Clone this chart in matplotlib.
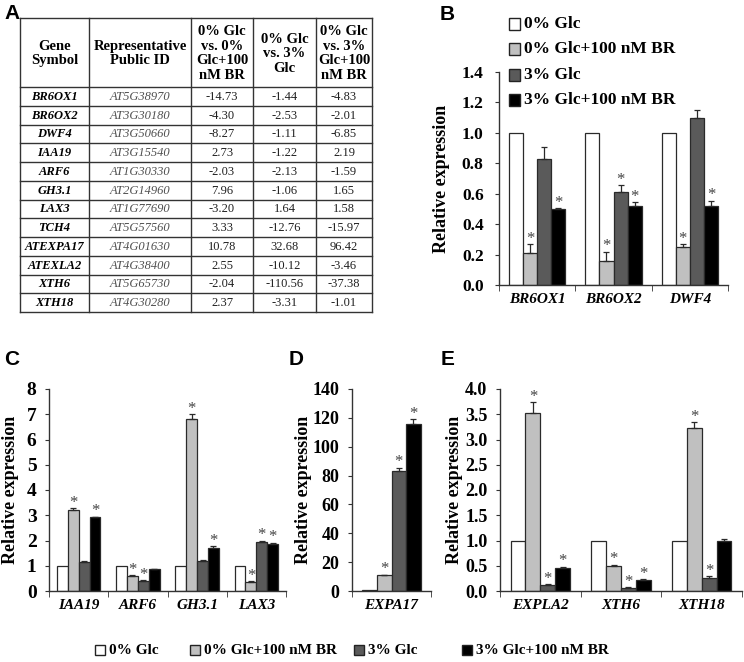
import matplotlib
matplotlib.use('Agg')
import matplotlib.pyplot as plt
import numpy as np
from matplotlib.patches import Rectangle

plt.rcParams['font.family'] = ['Liberation Serif', 'DejaVu Serif']
plt.rcParams['font.weight'] = 'bold'
plt.rcParams['axes.linewidth'] = 1.0

# ---------------- data ----------------
series = ['0% Glc', '0% Glc+100 nM BR', '3% Glc', '3% Glc+100 nM BR']
colors = ['white', '#c0c0c0', '#5a5a5a', 'black']

header = ['Gene\nSymbol', 'Representative\nPublic ID', '0% Glc\nvs. 0%\nGlc+100\nnM BR',
          '0% Glc\nvs. 3%\nGlc', '0% Glc\nvs. 3%\nGlc+100\nnM BR']
table_genes = ['BR6OX1', 'BR6OX2', 'DWF4', 'IAA19', 'ARF6', 'GH3.1', 'LAX3', 'TCH4',
               'ATEXPA17', 'ATEXLA2', 'XTH6', 'XTH18']
table_ids = ['AT5G38970', 'AT3G30180', 'AT3G50660', 'AT3G15540', 'AT1G30330', 'AT2G14960',
             'AT1G77690', 'AT5G57560', 'AT4G01630', 'AT4G38400', 'AT5G65730', 'AT4G30280']
fc_br = ['-14.73', '-4.30', '-8.27', '2.73', '-2.03', '7.96', '-3.20', '3.33', '10.78', '2.55', '-2.04', '2.37']
fc_glc = ['-1.44', '-2.53', '-1.11', '-1.22', '-2.13', '-1.06', '1.64', '-12.76', '32.68', '-10.12', '-110.56', '-3.31']
fc_both = ['-4.83', '-2.01', '-6.85', '2.19', '-1.59', '1.65', '1.58', '-15.97', '96.42', '-3.46', '-37.38', '-1.01']

b_genes = ['BR6OX1', 'BR6OX2', 'DWF4']
b_means = [[1.0, 1.0, 1.0], [0.21, 0.16, 0.25], [0.83, 0.61, 1.10], [0.50, 0.52, 0.52]]
b_errs = [[0, 0, 0], [0.06, 0.06, 0.02], [0.08, 0.045, 0.05], [0.005, 0.025, 0.035]]
b_sig = [[0, 0, 0], [1, 1, 1], [0, 1, 0], [1, 1, 1]]
b_ticks = [0.0, 0.2, 0.4, 0.6, 0.8, 1.0, 1.2, 1.4]

c_genes = ['IAA19', 'ARF6', 'GH3.1', 'LAX3']
c_means = [[1, 1, 1, 1], [3.2, 0.6, 6.8, 0.35], [1.13, 0.4, 1.2, 1.95], [2.92, 0.87, 1.72, 1.88]]
c_errs = [[0, 0, 0, 0], [0.08, 0.03, 0.2, 0.03], [0.04, 0.02, 0.03, 0.05], [0.03, 0.01, 0.05, 0.04]]
c_sig = [[0, 0, 0, 0], [1, 1, 1, 1], [0, 1, 0, 1], [1, 0, 1, 1]]
c_ticks = [0, 1, 2, 3, 4, 5, 6, 7, 8]

d_genes = ['EXPA17']
d_means = [[1.0], [10.8], [83.0], [115.5]]
d_errs = [[0], [0.5], [2.5], [3.5]]
d_sig = [[0], [1], [1], [1]]
d_ticks = [0, 20, 40, 60, 80, 100, 120, 140]

e_genes = ['EXPLA2', 'XTH6', 'XTH18']
e_means = [[1.0, 1.0, 1.0], [3.52, 0.5, 3.23], [0.11, 0.06, 0.25], [0.46, 0.22, 1.0]]
e_errs = [[0, 0, 0], [0.22, 0.02, 0.11], [0.02, 0.01, 0.04], [0.02, 0.015, 0.02]]
e_sig = [[0, 0, 0], [1, 1, 1], [1, 1, 1], [1, 1, 0]]
e_ticks = [0.0, 0.5, 1.0, 1.5, 2.0, 2.5, 3.0, 3.5, 4.0]

# ---------------- figure ----------------
W, H = 744, 662
fig = plt.figure(figsize=(W / 100, H / 100), dpi=100)


def px_axes(l, t, r, b):
    return fig.add_axes([l / W, 1 - b / H, (r - l) / W, (b - t) / H])


def fx(x):
    return x / W


def fy(y):
    return 1 - y / H


# ---------------- panel letters ----------------
for letter, (x, y) in zip('ABCDE', [(4, 4), (440, 5), (4, 350), (289, 350), (441, 350)]):
    fig.text(fx(x), fy(y), letter, family='Liberation Sans', fontsize=15, fontweight='bold',
             ha='left', va='top')

# ---------------- table (A) ----------------
tax = px_axes(20, 18, 372, 312)
tax.set_xlim(20, 372)
tax.set_ylim(312, 18)
tax.axis('off')
col_edges = [20, 89, 191, 253, 316, 372]
head_bot = 87
n = len(table_genes)
row_h = (312 - head_bot) / n
lc = '#333333'
for xe in col_edges:
    tax.plot([xe, xe], [18, 312], color=lc, lw=1.0, clip_on=False)
tax.plot([20, 372], [18, 18], color=lc, lw=1.0, clip_on=False)
tax.plot([20, 372], [head_bot, head_bot], color=lc, lw=1.0, clip_on=False)
for i in range(n):
    yb = head_bot + (i + 1) * row_h
    tax.plot([20, 372], [yb, yb], color=lc, lw=1.0, clip_on=False)
centers = [(col_edges[j] + col_edges[j + 1]) / 2 for j in range(5)]
for j, h in enumerate(header):
    tax.text(centers[j], (18 + head_bot) / 2 + 1, h, ha='center', va='center', fontsize=10.5,
             fontweight='bold', linespacing=1.15)
cols = [table_genes, table_ids, fc_br, fc_glc, fc_both]
for i in range(n):
    yc = head_bot + (i + 0.5) * row_h
    for j, col in enumerate(cols):
        if j == 0:
            kw = dict(fontweight='bold', fontstyle='italic', color='black')
        elif j == 1:
            kw = dict(fontweight='normal', fontstyle='italic', color='#505050')
        else:
            kw = dict(fontweight='normal', color='#202020')
        tax.text(centers[j], yc + 0.5, col[i], ha='center', va='center', fontsize=9, **kw)


# ---------------- bar panels ----------------
def bar_panel(ax, genes, means, errs, sigs, ticks, fmt, tick_fs, pad, width=0.184):
    x = np.arange(len(genes))
    for i in range(4):
        xs = x + (i - 1.5) * width
        ax.bar(xs, means[i], width, color=colors[i], edgecolor='#2a2a2a', linewidth=0.9, zorder=2)
        e = np.array(errs[i], dtype=float)
        m = np.array(means[i], dtype=float)
        mask = e > 0
        if mask.any():
            ax.errorbar(xs[mask], m[mask], yerr=[np.zeros(mask.sum()), e[mask]], fmt='none',
                        ecolor='#2a2a2a', elinewidth=0.9, capsize=2.5, capthick=0.9, zorder=3)
        for xx, mm, ee, s in zip(xs, m, e, sigs[i]):
            if s:
                ax.annotate('*', (xx, mm + ee), xytext=(0, 1), textcoords='offset points',
                            ha='center', va='baseline', fontsize=12, fontweight='normal',
                            color='#444444')
    ax.set_xlim(-0.5, len(genes) - 0.5)
    ax.set_ylim(ticks[0], ticks[-1])
    ax.set_yticks(ticks)
    ax.set_yticklabels([fmt % t for t in ticks], fontsize=tick_fs, fontweight='bold')
    ax.set_xticks(x)
    ax.set_xticklabels(genes, fontsize=11, fontweight='bold', fontstyle='italic')
    ax.set_xticks(np.arange(len(genes) + 1) - 0.5, minor=True)
    ax.tick_params(axis='x', which='major', length=0, pad=6)
    ax.tick_params(axis='x', which='minor', length=4, direction='out', color='#333333')
    ax.tick_params(axis='y', length=3, direction='out', pad=pad, color='#333333')
    for s in ['top', 'right']:
        ax.spines[s].set_visible(False)
    for s in ['left', 'bottom']:
        ax.spines[s].set_color('#333333')
    ax.set_ylabel('Relative expression', fontsize=13, fontweight='bold')


axB = px_axes(499, 72, 728, 285)
bar_panel(axB, b_genes, b_means, b_errs, b_sig, b_ticks, '%.1f', 12.5, 8)
axB.yaxis.set_label_coords((450 - 499) / 229, 0.5)

axC = px_axes(49, 389, 286, 591)
bar_panel(axC, c_genes, c_means, c_errs, c_sig, c_ticks, '%d', 14, 6)
axC.yaxis.set_label_coords((19 - 49) / 237, 0.5)

axD = px_axes(352, 389, 431, 591)
bar_panel(axD, d_genes, d_means, d_errs, d_sig, d_ticks, '%d', 13, 6)
axD.yaxis.set_label_coords((312 - 352) / 79, 0.5)

axE = px_axes(500, 389, 742, 591)
bar_panel(axE, e_genes, e_means, e_errs, e_sig, e_ticks, '%.1f', 13, 6)
axE.yaxis.set_label_coords((463 - 500) / 242, 0.5)


# ---------------- legends ----------------
def legend_item(x, y, label, color, size=11, fs=12):
    fig.patches.append(Rectangle((fx(x), fy(y + size / 2)), size / W, size / H, transform=fig.transFigure,
                                 facecolor=color, edgecolor='#222222', linewidth=1.0))
    fig.text(fx(x + size + 4), fy(y), label, ha='left', va='center', fontsize=fs, fontweight='bold')


for k, (lab, col) in enumerate(zip(series, colors)):
    legend_item(509, [24, 49, 75, 100][k], lab, col, size=11, fs=12.5)

for lab, col, xx in zip(series, colors, [95, 190, 354, 462]):
    legend_item(xx, 650, lab, col, size=10, fs=11)

fig.savefig('out.png', dpi=100)
